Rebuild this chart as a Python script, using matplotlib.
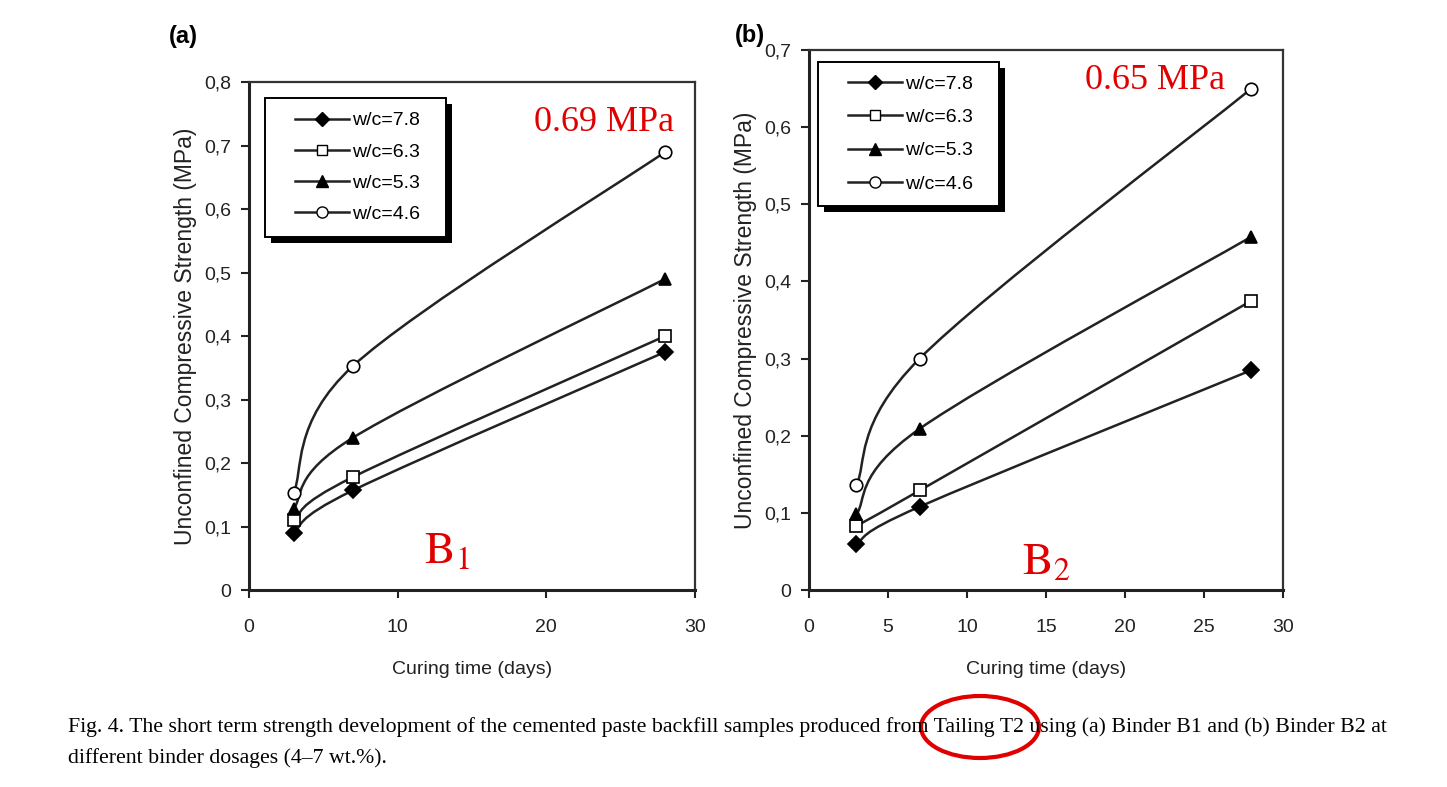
import numpy as np
import matplotlib
matplotlib.use("Agg")
import matplotlib.pyplot as plt
from matplotlib.path import Path
from matplotlib.patches import PathPatch, Ellipse, Rectangle
from matplotlib.lines import Line2D
from matplotlib.ticker import FuncFormatter

plt.rcParams['font.family'] = ['Liberation Sans', 'DejaVu Sans']
plt.rcParams['mathtext.fontset'] = 'stix'

# ---- data ----
days = [3, 7, 28]
labels = ["w/c=7.8", "w/c=6.3", "w/c=5.3", "w/c=4.6"]

# Binder B1 (panel a)
b1_78 = [0.090, 0.157, 0.375]
b1_63 = [0.110, 0.178, 0.400]
b1_53 = [0.128, 0.240, 0.490]
b1_46 = [0.153, 0.353, 0.690]

# Binder B2 (panel b)
b2_78 = [0.060, 0.108, 0.285]
b2_63 = [0.083, 0.129, 0.375]
b2_53 = [0.098, 0.209, 0.458]
b2_46 = [0.136, 0.300, 0.650]

markers = ['D', 's', '^', 'o']
faces = ['black', 'white', 'black', 'white']
msizes = [8, 8, 9, 9]
line_col = '#222222'


def smooth_path(x, y, t=1 / 6):
    """Bezier path through the points, like a spreadsheet 'smoothed line'."""
    pts = np.column_stack([x, y]).astype(float)
    n = len(pts)
    verts = [pts[0]]
    codes = [Path.MOVETO]
    for i in range(n - 1):
        p0, p3 = pts[i], pts[i + 1]
        prev = pts[i - 1] if i > 0 else pts[i]
        nxt = pts[i + 2] if i + 2 < n else pts[i + 1]
        c1 = p0 + (p3 - prev) * t
        c2 = p3 - (nxt - p0) * t
        verts += [c1, c2, p3]
        codes += [Path.CURVE4] * 3
    return Path(verts, codes)


def comma_fmt(v, pos):
    if abs(v) < 1e-9:
        return "0"
    return f"{v:.1f}".replace('.', ',')


def draw_panel(ax, series, ymax, xticks, leg_anchor, leg_spacing):
    for vals, m, fc, ms in zip(series, markers, faces, msizes):
        ax.add_patch(PathPatch(smooth_path(days, vals), fill=False,
                               edgecolor=line_col, linewidth=1.8, zorder=2))
        ax.plot(days, vals, linestyle='none', marker=m, markersize=ms,
                markerfacecolor=fc, markeredgecolor='black',
                markeredgewidth=1.2, zorder=3)
    ax.set_xlim(0, 30)
    ax.set_ylim(0, ymax)
    ax.set_xticks(xticks)
    ax.set_yticks(np.round(np.arange(0, ymax + 0.001, 0.1), 1))
    ax.yaxis.set_major_formatter(FuncFormatter(comma_fmt))
    ax.tick_params(direction='out', length=6, width=1.5, labelsize=14,
                   colors='#222222')
    ax.tick_params(axis='x', pad=15)
    ax.tick_params(axis='y', pad=7)
    for side in ['left', 'bottom']:
        ax.spines[side].set_linewidth(2.2)
        ax.spines[side].set_color('#222222')
    for side in ['top', 'right']:
        ax.spines[side].set_linewidth(1.6)
        ax.spines[side].set_color('#333333')
    ax.set_xlabel("Curing time (days)", fontsize=14, color='#222222', labelpad=18)
    ax.set_ylabel("Unconfined Compressive Strength (MPa)", fontsize=16.5,
                  color='#222222', labelpad=5)

    handles = [Line2D([], [], color=line_col, linewidth=1.8, marker=m,
                      markersize=ms - 1, markerfacecolor=fc, markeredgecolor='black')
               for m, fc, ms in zip(markers, faces, msizes)]
    # frame is drawn by hand below (wider side padding + black drop shadow)
    leg = ax.legend(handles, labels, loc='upper left', bbox_to_anchor=leg_anchor,
                    fontsize=14, frameon=True, fancybox=False,
                    handlelength=2.8, handletextpad=0.15,
                    labelspacing=leg_spacing, borderpad=0.7, borderaxespad=0)
    leg.get_frame().set_facecolor('none')
    leg.get_frame().set_edgecolor('none')
    leg.set_zorder(7)
    return leg


fig = plt.figure(figsize=(14.47, 7.87), dpi=100)
ax1 = fig.add_axes([0.1721, 0.2503, 0.3082, 0.6455])
ax2 = fig.add_axes([0.5591, 0.2503, 0.3276, 0.6862])

leg1 = draw_panel(ax1, [b1_78, b1_63, b1_53, b1_46], 0.8, [0, 10, 20, 30],
                  (0.0717, 0.968), 0.7)
leg2 = draw_panel(ax2, [b2_78, b2_63, b2_53, b2_46], 0.7,
                  [0, 5, 10, 15, 20, 25, 30], (0.0527, 0.978), 0.8)

# legend boxes with black drop shadow (pixel coords)
fig.canvas.draw()
for ax, leg in [(ax1, leg1), (ax2, leg2)]:
    bb = leg.get_window_extent()
    dx = 16
    x0, y0, w, h = bb.x0 - dx, bb.y0, bb.width + 2 * dx - 4, bb.height
    ax.add_artist(Rectangle((x0 + 6, y0 - 6), w, h, transform=None,
                            facecolor='black', edgecolor='none',
                            zorder=5, clip_on=False))
    ax.add_artist(Rectangle((x0, y0), w, h, transform=None,
                            facecolor='white', edgecolor='black', linewidth=1.4,
                            zorder=6, clip_on=False))

# panel letters
fig.text(0.117, 0.953, "(a)", fontsize=17, fontweight='bold', ha='left', va='center')
fig.text(0.508, 0.955, "(b)", fontsize=17, fontweight='bold', ha='left', va='center')

# red annotations
red = '#e00000'
ax1.text(23.9, 0.737, "0.69 MPa", color=red, fontsize=26,
         family='Liberation Serif', ha='center', va='center')
ax2.text(21.9, 0.661, "0.65 MPa", color=red, fontsize=26,
         family='Liberation Serif', ha='center', va='center')
ax1.text(13.3, 0.062, r"$\mathrm{B}_1$", color=red, fontsize=33,
         ha='center', va='center')
ax2.text(15.0, 0.036, r"$\mathrm{B}_2$", color=red, fontsize=33,
         ha='center', va='center')

# caption
cap1 = ("Fig. 4. The short term strength development of the cemented paste backfill "
        "samples produced from Tailing T2 using (a) Binder B1 and (b) Binder B2 at")
cap2 = "different binder dosages (4\u20137 wt.%)."
fig.text(0.047, 1 - 727 / 787, cap1, fontsize=15.7, family='Liberation Serif',
         ha='left', va='center')
fig.text(0.047, 1 - 758 / 787, cap2, fontsize=15.7, family='Liberation Serif',
         ha='left', va='center')

# red circle around "Tailing T2"
fig.patches.append(Ellipse((980 / 1447, 1 - 727 / 787), 118 / 1447, 62 / 787,
                           transform=fig.transFigure, fill=False,
                           edgecolor=red, linewidth=3))

fig.savefig("out.png", dpi=100)
